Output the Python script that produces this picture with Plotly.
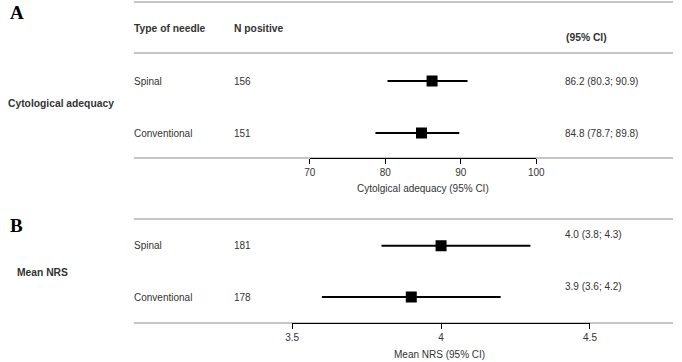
import plotly.graph_objects as go

# ---- data ----
needle_types = ["Spinal", "Conventional"]
row_pos = [1, 0]

adeq_n = [156, 151]
adeq_est = [86.2, 84.8]
adeq_lo = [80.3, 78.7]
adeq_hi = [90.9, 89.8]
adeq_ticks = [70, 80, 90, 100]

nrs_n = [181, 178]
nrs_est = [4.0, 3.9]
nrs_lo = [3.8, 3.6]
nrs_hi = [4.3, 4.2]
nrs_ticks = [3.5, 4, 4.5]
nrs_ticktext = ["3.5", "4", "4.5"]

W, H = 682, 362
FONT = "Liberation Sans, Arial, sans-serif"
SERIF = "Liberation Serif, Times New Roman, serif"
TXT = "#333333"
GRAY = "#8c8c8c"
REG = 10
BOLD = 10.3

def px(x):
    return x / W

def py(y):
    return 1 - y / H

fig = go.Figure()

def add_panel(est, lo, hi, xa, ya):
    for yv, e, l, h in zip(row_pos, est, lo, hi):
        fig.add_trace(go.Scatter(x=[l, h], y=[yv, yv], mode="lines",
                                 line=dict(color="black", width=2),
                                 xaxis=xa, yaxis=ya, showlegend=False, hoverinfo="skip"))
    fig.add_trace(go.Scatter(x=est, y=row_pos, mode="markers",
                             marker=dict(symbol="square", size=11, color="black"),
                             xaxis=xa, yaxis=ya, showlegend=False))

add_panel(adeq_est, adeq_lo, adeq_hi, "x", "y")
add_panel(nrs_est, nrs_lo, nrs_hi, "x2", "y2")

axis_common = dict(showgrid=False, zeroline=False, showline=True, linecolor="black",
                   linewidth=1, ticks="outside", ticklen=5, tickcolor="black",
                   tickfont=dict(family=FONT, size=10, color=TXT), mirror=False)

fig.update_layout(
    width=W, height=H, margin=dict(l=0, r=0, t=0, b=0),
    paper_bgcolor="white", plot_bgcolor="white",
    xaxis=dict(domain=[px(310), px(542)], range=[70, 100], tickvals=adeq_ticks,
               anchor="y", **axis_common),
    yaxis=dict(domain=[py(158), py(53)], range=[-0.48, 1.538], visible=False),
    xaxis2=dict(domain=[px(292), px(597)], range=[3.5, 4.5], tickvals=nrs_ticks,
                ticktext=nrs_ticktext, anchor="y2", **axis_common),
    yaxis2=dict(domain=[py(323), py(219)], range=[-0.507, 1.52], visible=False),
)

# horizontal separator lines
for yl in [2, 53, 158, 219, 323]:
    fig.add_shape(type="line", xref="paper", yref="paper", x0=px(130), x1=1,
                  y0=py(yl), y1=py(yl), line=dict(color=GRAY, width=1), layer="below")

def ann(text, x, y, size=REG, bold=False, xanchor="left", family=FONT, color=TXT):
    fig.add_annotation(text=f"<b>{text}</b>" if bold else text, x=px(x), y=py(y),
                       xref="paper", yref="paper", xanchor=xanchor, yanchor="middle",
                       showarrow=False, font=dict(family=family, size=size, color=color))

ann("A", 1, 12, size=19, bold=True, family=SERIF, color="black")
ann("B", 1, 226, size=19, bold=True, family=SERIF, color="black")

ann("Type of needle", 128, 28, size=BOLD, bold=True)
ann("N positive", 230, 28, size=BOLD, bold=True)
ann("(95% CI)", 570, 37, size=BOLD, bold=True)
ann("Cytological adequacy", -1, 103, size=BOLD, bold=True)
ann("Mean NRS", 8, 272, size=BOLD, bold=True)

rowA_y = [81, 133]
for name, n, e, l, h, yy in zip(needle_types, adeq_n, adeq_est, adeq_lo, adeq_hi, rowA_y):
    ann(name, 128, yy)
    ann(str(n), 230, yy)
    ann(f"{e:.1f} ({l:.1f}; {h:.1f})", 569, yy)

rowB_y = [245, 297]
rowB_ci_y = [235, 286]
for name, n, e, l, h, yy, yc in zip(needle_types, nrs_n, nrs_est, nrs_lo, nrs_hi, rowB_y, rowB_ci_y):
    ann(name, 128, yy)
    ann(str(n), 230, yy)
    ann(f"{e:.1f} ({l:.1f}; {h:.1f})", 569, yc)

ann("Cytolgical adequacy (95% CI)", 426, 188, size=10, xanchor="center")
ann("Mean NRS (95% CI)", 443, 354, size=10, xanchor="center")

fig.write_html("out.html")
